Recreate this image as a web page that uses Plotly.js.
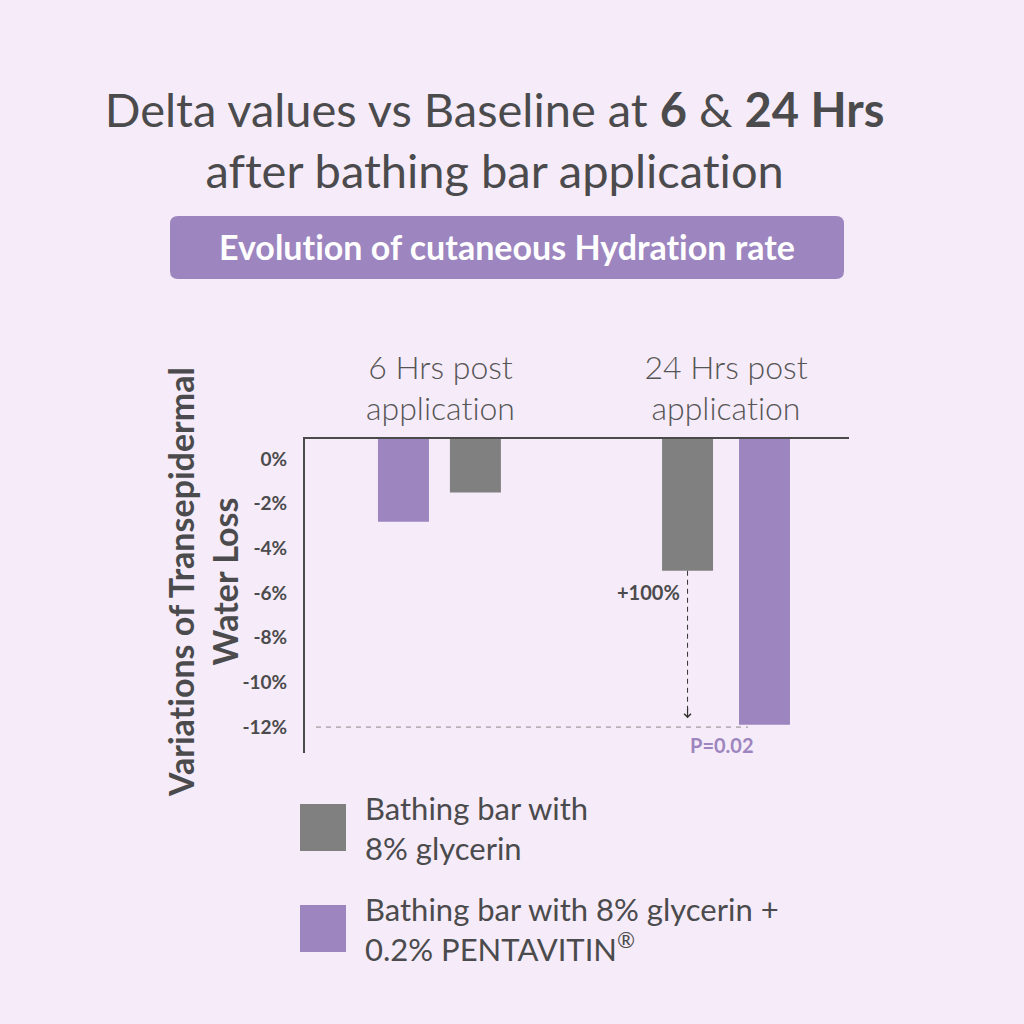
<!DOCTYPE html>
<html>
<head>
<meta charset="utf-8">
<script src="https://cdn.plot.ly/plotly-3.0.1.min.js"></script>
<style>
  html, body { margin: 0; padding: 0; background: #f6ebf8; }
  #chart { width: 1024px; height: 1024px; }
  svg text, svg tspan {
    font-variant-ligatures: none !important;
    font-feature-settings: "liga" 0, "clig" 0, "dlig" 0 !important;
  }
</style>
</head>
<body>
<div id="chart"></div>
<script>
// data
var groupLabels = ['6 Hrs post<br>application', '24 Hrs post<br>application'];
var groupPos = [0, 1];
var seriesNames = ['Bathing bar with<br>8% glycerin',
                   'Bathing bar with 8% glycerin +<br>0.2% PENTAVITIN<sup>®</sup>'];
var glycerin = [-1.5, -5.0];      // grey
var pentavitin = [-2.8, -11.9];   // purple
var yTicks = [0, -2, -4, -6, -8, -10, -12];
var gainLabel = '+100%';
var pLabel = 'P=0.02';

var GREY = '#808080';
var PURPLE = '#9d85bf';
var TEXT = '#4b4b4d';
var BG = '#f6ebf8';

var M = {l: 305, r: 175, t: 439, b: 271};
var W = 1024 - M.l - M.r;
var H = 1024 - M.t - M.b;

// the axis top sits above 0%, bars hang from it
var Y_TOP = 0.9;
var Y_BOT = -13.16;
var X_RANGE = [-0.4746, 1.4308];
var BAR_W = 0.1786;
var greyOffset = [0.033, -0.224];
var purpleOffset = [-0.219, 0.0455];

function px(x) { return (x - M.l) / W; }
function py(y) { return (1024 - M.b - y) / H; }

function roundRect(x0, y0, x1, y1, r) {
    var a = [px(x0), px(x0 + r), px(x1 - r), px(x1)];
    var b = [py(y0), py(y0 + r), py(y1 - r), py(y1)];
    return 'M' + a[1] + ',' + b[0] + ' L' + a[2] + ',' + b[0] +
           ' Q' + a[3] + ',' + b[0] + ' ' + a[3] + ',' + b[1] +
           ' L' + a[3] + ',' + b[2] +
           ' Q' + a[3] + ',' + b[3] + ' ' + a[2] + ',' + b[3] +
           ' L' + a[1] + ',' + b[3] +
           ' Q' + a[0] + ',' + b[3] + ' ' + a[0] + ',' + b[2] +
           ' L' + a[0] + ',' + b[1] +
           ' Q' + a[0] + ',' + b[0] + ' ' + a[1] + ',' + b[0] + ' Z';
}

function fromTop(v) { return v.map(function(d) { return d - Y_TOP; }); }

var traces = [{
    type: 'bar',
    name: seriesNames[0],
    x: groupPos,
    y: fromTop(glycerin),
    base: Y_TOP,
    width: BAR_W,
    offset: greyOffset,
    marker: {color: GREY}
}, {
    type: 'bar',
    name: seriesNames[1],
    x: groupPos,
    y: fromTop(pentavitin),
    base: Y_TOP,
    width: BAR_W,
    offset: purpleOffset,
    marker: {color: PURPLE}
}];

var arrowX = groupPos[1] + greyOffset[1] + BAR_W / 2;

var shapes = [
    {type: 'path', xref: 'paper', yref: 'paper', path: roundRect(170, 216, 844, 279, 8),
     fillcolor: PURPLE, line: {width: 0}, layer: 'below'},
    {type: 'line', xref: 'paper', yref: 'y', x0: px(316), x1: px(748), y0: -12, y1: -12,
     line: {color: '#8a8a8a', width: 1, dash: '5px,5px'}},
    {type: 'line', xref: 'x', yref: 'y', x0: arrowX, x1: arrowX, y0: glycerin[1], y1: -11.3,
     line: {color: '#333333', width: 1, dash: '5px,4px'}},
    {type: 'rect', xref: 'paper', yref: 'paper', x0: px(300), x1: px(346), y0: py(804), y1: py(851),
     fillcolor: GREY, line: {width: 0}},
    {type: 'rect', xref: 'paper', yref: 'paper', x0: px(300), x1: px(346), y0: py(905), y1: py(952),
     fillcolor: PURPLE, line: {width: 0}}
];

var annotations = [
    {xref: 'paper', yref: 'paper', x: px(507), y: py(247), xanchor: 'center', yanchor: 'middle',
     text: '<b>Evolution of cutaneous Hydration rate</b>',
     showarrow: false, font: {family: 'Lato', size: 34, color: '#ffffff'}},
    {xref: 'paper', yref: 'paper', x: px(202), y: py(582), xanchor: 'center', yanchor: 'middle',
     text: '<b>Variations of Transepidermal<br>Water Loss</b>', textangle: -90,
     showarrow: false, font: {family: 'Lato', size: 34, color: TEXT}},
    {xref: 'x', yref: 'y', x: arrowX, y: -11.6, ax: 0, ay: -12, text: '',
     showarrow: true, arrowhead: 4, arrowsize: 1.1, arrowwidth: 1.2, arrowcolor: '#333333'},
    {xref: 'x', yref: 'y', x: arrowX - 0.018, y: -5.96, text: '<b>' + gainLabel + '</b>',
     xanchor: 'right', yanchor: 'middle',
     showarrow: false, font: {family: 'Lato', size: 20, color: TEXT}},
    {xref: 'x', yref: 'y', x: 0.986, y: -12.8, text: '<b>' + pLabel + '</b>',
     xanchor: 'center', yanchor: 'middle',
     showarrow: false, font: {family: 'Lato', size: 20, color: PURPLE}},
    {xref: 'paper', yref: 'paper', x: px(363), y: py(828), text: seriesNames[0],
     xanchor: 'left', yanchor: 'middle', align: 'left',
     showarrow: false, font: {family: 'Lato', size: 31, color: TEXT}},
    {xref: 'paper', yref: 'paper', x: px(363), y: py(929), text: seriesNames[1],
     xanchor: 'left', yanchor: 'middle', align: 'left',
     showarrow: false, font: {family: 'Lato', size: 31, color: TEXT}}
];

var layout = {
    width: 1024,
    height: 1024,
    margin: M,
    paper_bgcolor: BG,
    plot_bgcolor: BG,
    showlegend: false,
    title: {
        text: 'Delta values vs Baseline at <b>6</b> & <b>24 Hrs</b><br>after bathing bar application',
        font: {family: 'Lato', size: 47, color: TEXT},
        x: 0.483, xanchor: 'center',
        y: 0.876, yref: 'container', yanchor: 'middle'
    },
    xaxis: {
        range: X_RANGE,
        side: 'top',
        showline: true, linecolor: '#4a4a4a', linewidth: 2,
        showgrid: false, zeroline: false,
        tickvals: groupPos, ticktext: groupLabels, ticks: '',
        ticklabelstandoff: 4,
        tickfont: {family: 'Lato', size: 32, color: '#555555', weight: 300},
        fixedrange: true
    },
    yaxis: {
        range: [Y_BOT, Y_TOP],
        showline: true, linecolor: '#4a4a4a', linewidth: 2,
        showgrid: false, zeroline: false,
        tickvals: yTicks,
        ticktext: yTicks.map(function(v) { return v + '%'; }),
        ticks: '',
        ticklabelstandoff: 12,
        tickfont: {family: 'Lato', size: 19, color: TEXT, weight: 'bold'},
        fixedrange: true
    },
    shapes: shapes,
    annotations: annotations
};

Plotly.newPlot('chart', traces, layout, {staticPlot: true});
</script>
</body>
</html>
